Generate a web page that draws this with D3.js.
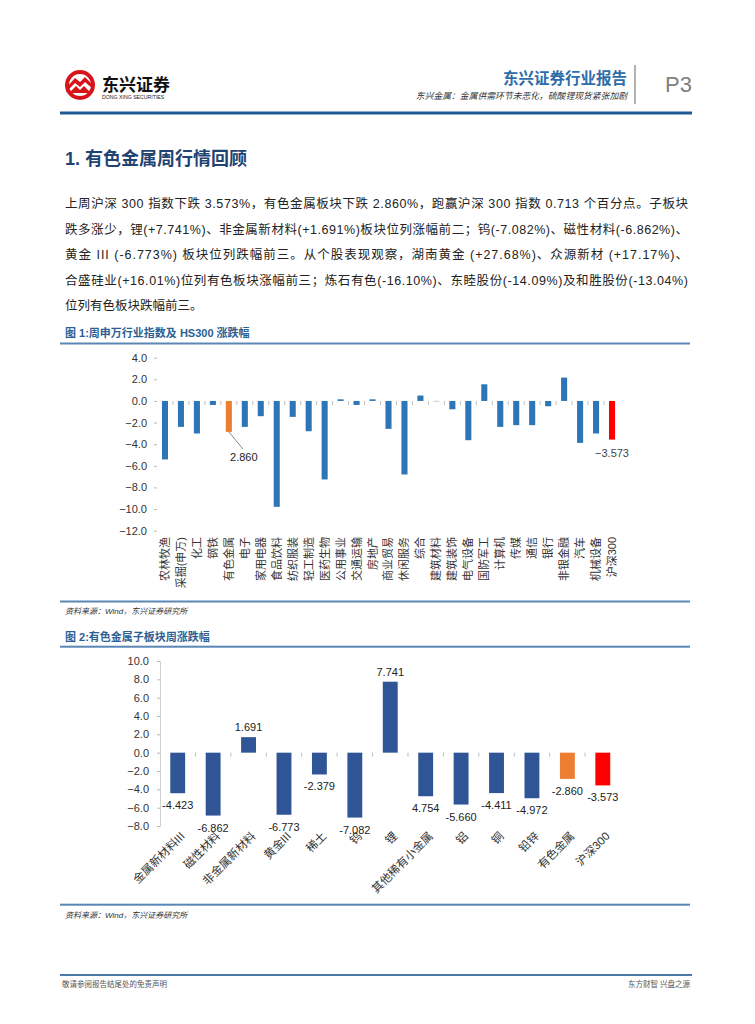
<!DOCTYPE html>
<html><head><meta charset="utf-8">
<script src="https://cdn.jsdelivr.net/npm/d3@7"></script>
<style>body{margin:0;background:#fff}svg{display:block}</style>
</head><body><svg id="c" width="755" height="1024"></svg>
<script>
// ---------- data ----------
const industries1 = ["农林牧渔","采掘(申万)","化工","钢铁","有色金属","电子","家用电器","食品饮料","纺织服装","轻工制造","医药生物","公用事业","交通运输","房地产","商业贸易","休闲服务","综合","建筑材料","建筑装饰","电气设备","国防军工","计算机","传媒","通信","银行","非银金融","汽车","机械设备","沪深300"];
const values1 = [-5.41,-2.40,-3.01,-0.37,-2.860,-2.40,-1.41,-9.79,-1.47,-2.80,-7.26,0.15,-0.37,0.15,-2.58,-6.80,0.50,-0.03,-0.77,-3.63,1.54,-2.40,-2.24,-2.24,-0.49,2.16,-3.88,-3.01,-3.573];
const yTicks1 = [4,2,0,-2,-4,-6,-8,-10,-12];

const subsectors2 = ["金属新材料III","磁性材料","非金属新材料","黄金III","稀土","钨","锂","其他稀有小金属","铝","铜","铅锌","有色金属","沪深300"];
const values2 = [-4.423,-6.862,1.691,-6.773,-2.379,-7.082,7.741,-4.754,-5.660,-4.411,-4.972,-2.860,-3.573];
const labels2 = ["-4.423","-6.862","1.691","-6.773","-2.379","-7.082","7.741","4.754","-5.660","-4.411","-4.972","-2.860","-3.573"];
const yTicks2 = [10,8,6,4,2,0,-2,-4,-6,-8];

const paragraph = [
  "上周沪深 300 指数下跌 3.573%，有色金属板块下跌 2.860%，跑赢沪深 300 指数 0.713 个百分点。子板块",
  "跌多涨少，锂(+7.741%)、非金属新材料(+1.691%)板块位列涨幅前二；钨(-7.082%)、磁性材料(-6.862%)、",
  "黄金 III (-6.773%) 板块位列跌幅前三。从个股表现观察，湖南黄金 (+27.68%)、众源新材 (+17.17%)、",
  "合盛硅业(+16.01%)位列有色板块涨幅前三；炼石有色(-16.10%)、东睦股份(-14.09%)及和胜股份(-13.04%)",
  "位列有色板块跌幅前三。"
];

// ---------- styles ----------
const FONT = "'Liberation Sans','Noto Sans CJK SC',Arial,sans-serif";
const BLUE1 = "#2E75B6", BLUE2 = "#2F5597", ORANGE = "#ED7D31", RED = "#FF0000";
const colorFor = name => name === "有色金属" ? ORANGE : (name === "沪深300" ? RED : null);

const svg = d3.select("#c").style("font-family", FONT);
svg.append("rect").attr("width",755).attr("height",1024).attr("fill","#fff");

// ---------- header ----------
const logo = svg.append("g");
logo.append("circle").attr("cx",80).attr("cy",85).attr("r",15).attr("fill","#D7141A");
logo.append("circle").attr("cx",80).attr("cy",85).attr("r",11).attr("fill","#fff");
logo.append("path").attr("d","M66,88 L75,78 L80,82 L85,77 L94,86 L94,90 L85,82 L80,87 L75,83 L66,92 Z").attr("fill","#D7141A");
logo.append("path").attr("d","M69,93 L76,86 L80,90 L84,86 L91,93 Z").attr("fill","#D7141A");
logo.append("text").attr("x",102).attr("y",91).attr("font-size",17).attr("font-weight","bold").attr("fill","#111").text("东兴证券");
logo.append("text").attr("x",102).attr("y",99).attr("font-size",5.2).attr("fill","#222").text("DONG XING SECURITIES");

svg.append("text").attr("x",627).attr("y",84).attr("text-anchor","end").attr("font-size",15.5).attr("font-weight","bold").attr("fill","#2E6DA8").text("东兴证券行业报告");
svg.append("text").attr("x",627).attr("y",99).attr("text-anchor","end").attr("font-size",8.8).attr("font-style","italic").attr("fill","#333").text("东兴金属：金属供需环节未恶化，硫酸锂现货紧张加剧");
svg.append("line").attr("x1",635).attr("x2",635).attr("y1",65).attr("y2",104).attr("stroke","#999").attr("stroke-width",1.5);
svg.append("text").attr("x",665).attr("y",92).attr("font-size",22).attr("fill","#808080").text("P3");
svg.append("rect").attr("x",60).attr("y",111.5).attr("width",632).attr("height",3).attr("fill","#1E5A96");

// ---------- heading + paragraph ----------
svg.append("text").attr("x",65).attr("y",165).attr("font-size",18).attr("font-weight","bold").attr("fill","#1F4373").text("1. 有色金属周行情回顾");
paragraph.forEach((line,i)=>{
  const t = svg.append("text").attr("x",65).attr("y",208+i*25.6).attr("font-size",12.5).attr("fill","#222").text(line);
  if (i < paragraph.length-1) t.attr("textLength", 623).attr("lengthAdjust","spacing");
});

// ---------- figure helpers ----------
function figFrame(title, yTitle, yTop, yBottom, ySource){
  svg.append("text").attr("x",65).attr("y",yTitle).attr("font-size",11).attr("font-weight","bold").attr("fill","#2C5F93").text(title);
  svg.append("rect").attr("x",60).attr("y",yTop-1).attr("width",630).attr("height",2).attr("fill","#5B87B5");
  svg.append("rect").attr("x",60).attr("y",yBottom-1).attr("width",630).attr("height",2).attr("fill","#5B87B5");
  svg.append("text").attr("x",65).attr("y",ySource).attr("font-size",8).attr("font-style","italic").attr("fill","#333").text("资料来源：Wind，东兴证券研究所");
}

// ---------- figure 1 ----------
figFrame("图 1:周申万行业指数及 HS300 涨跌幅", 337, 343.5, 601.5, 614);
{
  const x = d3.scaleBand().domain(industries1).range([157, 620]).paddingInner(0.62).paddingOuter(0.31);
  const y = d3.scaleLinear().domain([-12, 4]).range([530.7, 357.7]);
  const g = svg.append("g");
  const ax = g.append("g").attr("transform","translate(157,0)")
    .call(d3.axisLeft(y).tickValues(yTicks1).tickFormat(d3.format(".1f")).tickSize(3).tickPadding(7));
  ax.select(".domain").remove();
  ax.selectAll(".tick line").attr("stroke","#bbb");
  ax.selectAll(".tick text").attr("font-size",11).attr("fill","#333").attr("font-family",FONT);
  const step = x.step();
  g.selectAll(".zt").data(industries1.slice(1)).enter().append("line")
    .attr("x1",d=>x(d)-(step-x.bandwidth())/2).attr("x2",d=>x(d)-(step-x.bandwidth())/2)
    .attr("y1",y(0)).attr("y2",y(0)+4).attr("stroke","#bbb");
  g.selectAll(".bar").data(industries1).enter().append("rect")
    .attr("x",d=>x(d)).attr("width",x.bandwidth())
    .attr("y",(d,i)=>y(Math.max(0,values1[i])))
    .attr("height",(d,i)=>Math.abs(y(values1[i])-y(0)))
    .attr("fill",d=>colorFor(d) || BLUE1);
  g.selectAll(".xl").data(industries1).enter().append("text")
    .attr("transform",d=>`translate(${x(d)+x.bandwidth()/2},537) rotate(-90)`)
    .attr("text-anchor","end").attr("dy","0.36em").attr("font-size",11).attr("fill","#333").text(d=>d);
  const iNF = industries1.indexOf("有色金属"), iHS = industries1.indexOf("沪深300");
  const cNF = x(industries1[iNF])+x.bandwidth()/2;
  g.append("line").attr("x1",cNF).attr("y1",y(values1[iNF])).attr("x2",cNF+14).attr("y2",y(values1[iNF])+17).attr("stroke","#555").attr("stroke-width",0.7);
  g.append("text").attr("x",cNF+15).attr("y",y(values1[iNF])+29).attr("text-anchor","middle").attr("font-size",11).attr("fill","#222").text(d3.format(".3f")(Math.abs(values1[iNF])));
  const cHS = x(industries1[iHS])+x.bandwidth()/2;
  g.append("text").attr("x",cHS).attr("y",y(values1[iHS])+17).attr("text-anchor","middle").attr("font-size",11).attr("fill","#444").text(d3.format(".3f")(values1[iHS]));
}

// ---------- figure 2 ----------
figFrame("图 2:有色金属子板块周涨跌幅", 641, 646.7, 904.7, 918);
{
  const x = d3.scaleBand().domain(subsectors2).range([160, 620.5]).paddingInner(0.58).paddingOuter(0.29);
  const y = d3.scaleLinear().domain([-8, 10]).range([826, 661]);
  const g = svg.append("g");
  const ax = g.append("g").attr("transform","translate(160,0)")
    .call(d3.axisLeft(y).tickValues(yTicks2).tickFormat(d3.format(".1f")).tickSize(3).tickPadding(8));
  ax.select(".domain").attr("stroke","#d0d0d0");
  ax.selectAll(".tick line").attr("stroke","#bbb");
  ax.selectAll(".tick text").attr("font-size",11).attr("fill","#333").attr("font-family",FONT);
  const step = x.step();
  g.selectAll(".zt").data(subsectors2.slice(1)).enter().append("line")
    .attr("x1",d=>x(d)-(step-x.bandwidth())/2).attr("x2",d=>x(d)-(step-x.bandwidth())/2)
    .attr("y1",y(0)).attr("y2",y(0)+4).attr("stroke","#bbb");
  g.selectAll(".bar").data(subsectors2).enter().append("rect")
    .attr("x",d=>x(d)).attr("width",x.bandwidth())
    .attr("y",(d,i)=>y(Math.max(0,values2[i])))
    .attr("height",(d,i)=>Math.abs(y(values2[i])-y(0)))
    .attr("fill",d=>colorFor(d) || BLUE2);
  g.selectAll(".vl").data(subsectors2).enter().append("text")
    .attr("x",d=>x(d)+x.bandwidth()/2)
    .attr("y",(d,i)=>values2[i] >= 0 ? y(values2[i]) - 6 : y(values2[i]) + 16)
    .attr("text-anchor","middle").attr("font-size",11).attr("fill","#222")
    .text((d,i)=>labels2[i]);
  g.selectAll(".xl").data(subsectors2).enter().append("text")
    .attr("transform",d=>`translate(${x(d)+x.bandwidth()/2+5},834) rotate(-45)`)
    .attr("text-anchor","end").attr("dy","0.35em").attr("font-size",11.5).attr("fill","#333").text(d=>d);
}

// ---------- footer ----------
svg.append("rect").attr("x",60).attr("y",974).attr("width",632).attr("height",2).attr("fill","#4A79A8");
svg.append("text").attr("x",62).attr("y",987).attr("font-size",7.5).attr("fill","#555").text("敬请参阅报告结尾处的免责声明");
svg.append("text").attr("x",690).attr("y",987).attr("text-anchor","end").attr("font-size",7.5).attr("fill","#555").text("东方财智 兴盘之源");
</script>
</body></html>
